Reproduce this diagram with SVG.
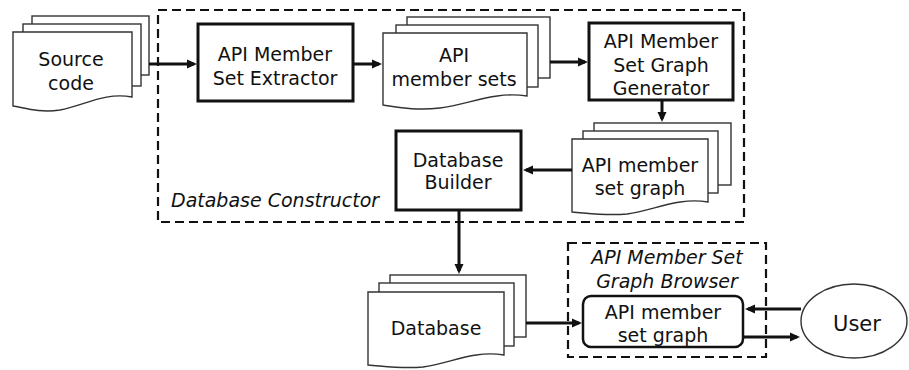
<svg xmlns="http://www.w3.org/2000/svg" width="909" height="370" viewBox="0 0 909 370">
  <style>
    .t { font-family: "DejaVu Sans", Verdana, sans-serif; font-size: 19px; fill: #111; text-anchor: middle; }
    .it { font-style: italic; }
    .sheet { fill: #fff; stroke: #333; stroke-width: 1.4; }
    .proc { fill: #fff; stroke: #111; stroke-width: 3; }
    .group { fill: none; stroke: #111; stroke-width: 2.2; stroke-dasharray: 9 5; }
    .conn { fill: none; stroke: #111; stroke-width: 3; }
  </style>
  <defs>
    <marker id="arrow" markerUnits="userSpaceOnUse" markerWidth="10" markerHeight="10" refX="7" refY="5" orient="auto">
      <path d="M0,0.5 L10,5 L0,9.5 z" fill="#111"/>
    </marker>
  </defs>

  <rect width="909" height="370" fill="#fff"/>

  <!-- grouping frames -->
  <g id="database-constructor">
    <rect class="group" x="158" y="10" width="586" height="212"/>
    <text class="t it" x="171" y="207" style="text-anchor:start">Database Constructor</text>
  </g>
  <g id="graph-browser">
    <rect class="group" x="568" y="243" width="198" height="114"/>
    <text class="t it" x="667" y="264">API Member Set</text>
    <text class="t it" x="667" y="288">Graph Browser</text>
  </g>

  <!-- Source code document stack -->
  <g id="source-code">
    <rect class="sheet" x="32" y="16" width="117" height="59"/>
    <rect class="sheet" x="23" y="24" width="118" height="62"/>
    <path class="sheet" d="M13,32 H132 V97 C105,92 85,105 60,110 C40,113 25,108 13,106 Z"/>
    <text class="t" x="71" y="66">Source</text>
    <text class="t" x="71" y="90">code</text>
  </g>

  <g id="member-set-extractor">
    <rect class="proc" x="198" y="24" width="155" height="77"/>
    <text class="t" x="275" y="61">API Member</text>
    <text class="t" x="275" y="85">Set Extractor</text>
  </g>

  <g id="api-member-sets">
    <rect class="sheet" x="407" y="17" width="143" height="61"/>
    <rect class="sheet" x="396" y="25" width="142" height="62"/>
    <path class="sheet" d="M383,33 H527 V96 C495,91 470,104 440,108 C415,111 397,107 383,105 Z"/>
    <text class="t" x="454" y="62">API</text>
    <text class="t" x="454" y="86">member sets</text>
  </g>

  <g id="graph-generator">
    <rect class="proc" x="589" y="23" width="144" height="77"/>
    <text class="t" x="661" y="48">API Member</text>
    <text class="t" x="661" y="72">Set Graph</text>
    <text class="t" x="661" y="95">Generator</text>
  </g>

  <g id="member-set-graph">
    <rect class="sheet" x="594" y="123" width="137" height="62"/>
    <rect class="sheet" x="583" y="131" width="135" height="62"/>
    <path class="sheet" d="M572,139 H708 V202 C678,197 655,210 627,214 C605,216 587,213 572,212 Z"/>
    <text class="t" x="640" y="172">API member</text>
    <text class="t" x="640" y="195">set graph</text>
  </g>

  <g id="database-builder">
    <rect class="proc" x="396" y="131" width="125" height="79"/>
    <text class="t" x="458" y="167">Database</text>
    <text class="t" x="458" y="189">Builder</text>
  </g>

  <g id="database">
    <rect class="sheet" x="390" y="275" width="136" height="62"/>
    <rect class="sheet" x="379" y="283" width="135" height="63"/>
    <path class="sheet" d="M368,292 H504 V355 C474,350 451,363 423,367 C401,369 383,366 368,365 Z"/>
    <text class="t" x="436" y="335">Database</text>
  </g>

  <g id="graph-view">
    <rect x="583" y="296" width="160" height="51" rx="8" fill="#fff" stroke="#111" stroke-width="2.5"/>
    <text class="t" x="663" y="319">API member</text>
    <text class="t" x="663" y="342">set graph</text>
  </g>

  <g id="user">
    <ellipse cx="854" cy="321" rx="53" ry="37" fill="#fff" stroke="#333" stroke-width="1.4"/>
    <text class="t" x="857" y="331" style="font-size:21px">User</text>
  </g>

  <!-- connectors -->
  <g id="connectors">
    <path class="conn" d="M149,64 H194" marker-end="url(#arrow)"/>
    <path class="conn" d="M353,64 H379" marker-end="url(#arrow)"/>
    <path class="conn" d="M550,62 H585" marker-end="url(#arrow)"/>
    <path class="conn" d="M662,100 V119" marker-end="url(#arrow)"/>
    <path class="conn" d="M572,170 H526" marker-end="url(#arrow)"/>
    <path class="conn" d="M459,210 V271" marker-end="url(#arrow)"/>
    <path class="conn" d="M526,323 H579" marker-end="url(#arrow)"/>
    <path class="conn" d="M801,309 H748" marker-end="url(#arrow)"/>
    <path class="conn" d="M744,337 H797" marker-end="url(#arrow)"/>
  </g>
</svg>
